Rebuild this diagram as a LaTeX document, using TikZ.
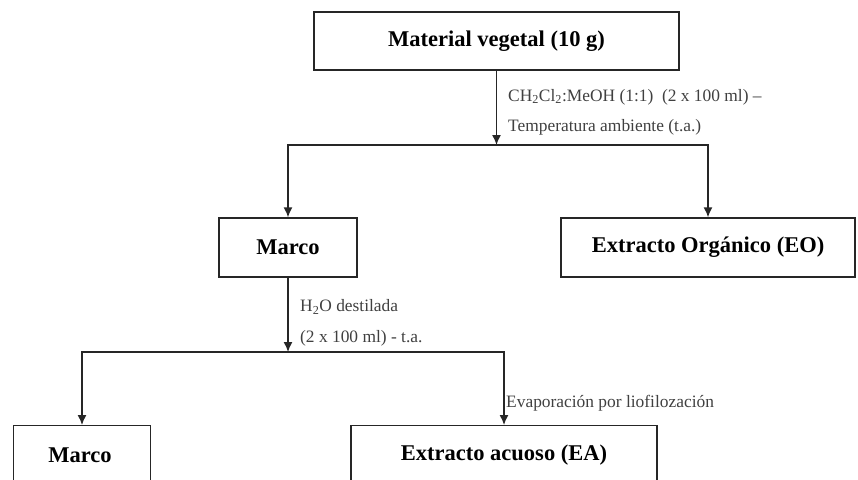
\documentclass[tikz,border=0pt]{standalone}
\usepackage{fontspec}
\setmainfont{Liberation Serif}
\usetikzlibrary{arrows.meta}
\begin{document}
\begin{tikzpicture}[x=1pt,y=-1pt,
  box/.style={draw=black!85, line width=1.4pt, inner sep=0pt, font=\fontsize{22.5}{26}\selectfont\bfseries},
  btxt/.style={inner sep=0pt, font=\fontsize{22.5}{26}\selectfont\bfseries},
  arr/.style={draw=black!85, line width=1.4pt, -{Latex[length=10pt,width=9pt]}},
  lbl/.style={anchor=west, inner sep=0pt, text=black!75, font=\fontsize{17.4}{20}\selectfont}]
\useasboundingbox (0,0) rectangle (858,479);
\clip (0,0) rectangle (858,479);
\node[box, minimum width=365pt, minimum height=58pt] (top) at (496.5,41) {Material vegetal (10 g)};
\node[box, minimum width=138pt, minimum height=59pt] (marco1) at (288,247.5) {Marco};
\node[box, minimum width=294pt, minimum height=59pt] (eo) at (708,247.5) {Extracto Orgánico (EO)};
\node[box, minimum width=137pt, minimum height=110pt, anchor=north] (marco2) at (82,425) {};
\node[btxt] (marco2t) at (80,455) {Marco};
\node[box, minimum width=306pt, minimum height=110pt, anchor=north] (ea) at (504,425) {};
\node[btxt] (eat) at (504,455) {Extracto acuoso (EA)};
\coordinate (j1) at (top.south |- 0,145);
\coordinate (j2) at (marco1.south |- 0,352);
\draw[arr] (top.south) -- (j1);
\draw[arr] (j1) -| (marco1.north);
\draw[arr] (j1) -| (eo.north);
\draw[arr] (marco1.south) -- (j2);
\draw[arr] (j2) -| (marco2.north);
\draw[arr] (j2) -| (ea.north);
\node[lbl] (l1) at (508,97) {CH\textsubscript{2}Cl\textsubscript{2}:MeOH (1:1)\ \ (2 x 100 ml) –};
\node[lbl] (l2) at (508,127) {Temperatura ambiente (t.a.)};
\node[lbl] (l3) at (300,307) {H\textsubscript{2}O destilada};
\node[lbl] (l4) at (300,338) {(2 x 100 ml) - t.a.};
\node[lbl] (l5) at (506,403) {Evaporación por liofilozación};
\end{tikzpicture}
\end{document}
